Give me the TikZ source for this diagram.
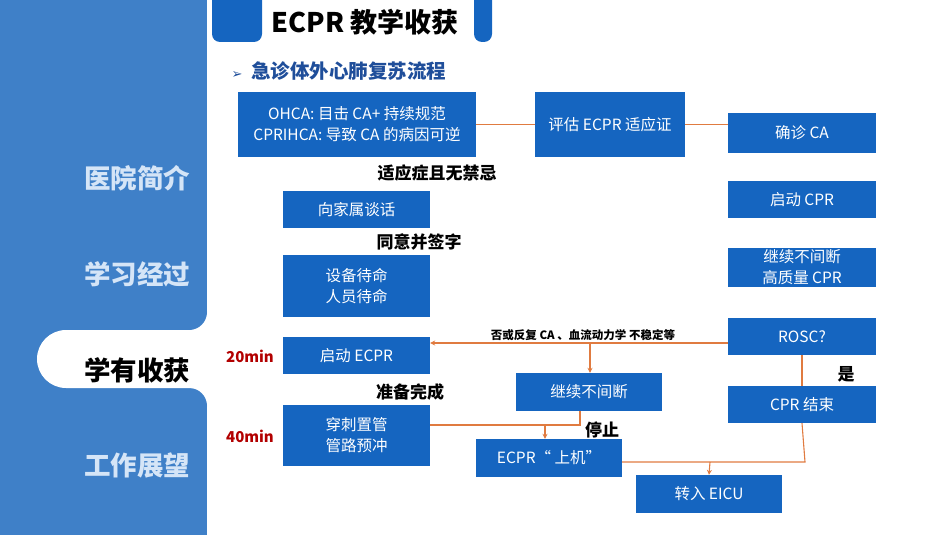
\documentclass[tikz,border=0pt]{standalone}
\usepackage{fontspec}
\setmainfont{Noto Sans CJK SC}
\newfontfamily\dejavu{DejaVu Sans}
\usetikzlibrary{arrows.meta}
\definecolor{sideblue}{HTML}{3F80C8}
\definecolor{boxblue}{HTML}{1565C0}
\definecolor{flow}{HTML}{E07B40}
\definecolor{navy}{HTML}{1F4E9A}
\definecolor{pale}{HTML}{D5E5F7}
\tikzset{
  box/.style={fill=boxblue,text=white,align=center,inner sep=0pt,font=\fontsize{15.5}{21}\selectfont},
  lbl/.style={font=\bfseries\fontsize{17}{19}\selectfont},
  conn/.style={flow,line width=1.1pt},
  arr/.style={conn,-{Stealth[length=5pt,width=5pt]}},
  side/.style={font=\bfseries\fontsize{26.5}{28}\selectfont,text=pale}
}
\begin{document}
\begin{tikzpicture}[x=1pt,y=-1pt]
\useasboundingbox (0,0) rectangle (950,535);
% sidebar
\fill[sideblue] (0,0) rectangle (207,535);
\fill[white] (189,312) rectangle (207,406);
\fill[sideblue] (189,312) circle[radius=18] (189,406) circle[radius=18];
\fill[white] (207,330) -- (66,330) arc[start angle=270,end angle=90,radius=29] -- (207,388) -- cycle;
\node[side] (s1) at (137,178) {医院简介};
\node[side] (s2) at (137,274) {学习经过};
\node[side,text=black] (s3) at (137,370) {学有收获};
\node[side] (s4) at (137,465) {工作展望};
% title
\fill[boxblue,rounded corners=8pt] (212,-10) rectangle (262,42);
\fill[boxblue,rounded corners=8pt] (474,-10) rectangle (492,42);
\node[font=\bfseries\fontsize{27}{29}\selectfont] (title) at (365,22) {ECPR 教学收获};
\node[anchor=west,text=navy,font=\bfseries\fontsize{19.5}{21}\selectfont] (sub) at (228,71) {{\dejavu\fontsize{13}{14}\selectfont ➢}\ \ 急诊体外心肺复苏流程};
% boxes
\node[box,minimum width=238,minimum height=65] (ohca) at (357,124.5) {OHCA: 目击 CA+ 持续规范\\CPRIHCA: 导致 CA 的病因可逆};
\node[box,minimum width=150,minimum height=65] (eval) at (610,124.5) {评估 ECPR 适应证};
\node[box,minimum width=148,minimum height=40] (ca) at (802,133) {确诊 CA};
\node[box,minimum width=148,minimum height=37] (cpr) at (802,199.5) {启动 CPR};
\node[box,minimum width=148,minimum height=39] (cont) at (802,267.5) {继续不间断\\高质量 CPR};
\node[box,minimum width=148,minimum height=37] (rosc) at (802,336.5) {ROSC?};
\node[box,minimum width=148,minimum height=37] (end) at (802,404.5) {CPR 结束};
\node[box,minimum width=147,minimum height=37] (talk) at (356.5,209.5) {向家属谈话};
\node[box,minimum width=147,minimum height=62] (ready) at (356.5,286) {设备待命\\人员待命};
\node[box,minimum width=147,minimum height=37] (start) at (356.5,355.5) {启动 ECPR};
\node[box,minimum width=147,minimum height=61] (cann) at (356.5,435.5) {穿刺置管\\管路预冲};
\node[box,minimum width=146,minimum height=38] (keep) at (589,392) {继续不间断};
\node[box,minimum width=146,minimum height=38] (on) at (549,458) {ECPR“ 上机”};
\node[box,minimum width=146,minimum height=38] (eicu) at (709,494) {转入 EICU};
% labels
\node[lbl] (l1) at (437,173) {适应症且无禁忌};
\node[lbl] (l2) at (419,242) {同意并签字};
\node[lbl] (l3) at (410,392) {准备完成};
\node[lbl] (l4) at (846,374) {是};
\node[lbl] (l5) at (602,430) {停止};
\node[lbl,text=red!70!black,font=\bfseries\fontsize{15}{17}\selectfont] (t1) at (250,356) {20min};
\node[lbl,text=red!70!black,font=\bfseries\fontsize{15}{17}\selectfont] (t2) at (250,436) {40min};
\node[font=\bfseries\fontsize{11.5}{13}\selectfont] (l6) at (583,335) {否或反复 CA 、血流动力学 不稳定等};
% connectors
\coordinate (b1) at (590,343);
\coordinate (b2) at (580,425);
\coordinate (b3) at (545,425);
\coordinate (b4) at (805,462);
\coordinate (b5) at (710,462);
\draw[conn] (ohca.east) -- (eval.west);
\draw[conn] (eval.east) -- (ca.west |- eval.east);
\draw[arr] (rosc.west |- b1) -- (start.east |- b1);
\draw[arr] (b1) -- (b1 |- keep.north);
\draw[conn] (cann.east |- b2) -- (b2) -- (b2 |- keep.south);
\draw[arr] (b3) -- (b3 |- on.north);
\draw[conn] (rosc.south) -- (end.north);
\draw[conn] (end.south) -- (b4) -- (on.east |- b4);
\draw[arr] (b5) -- (eicu.north);
\end{tikzpicture}
\end{document}
